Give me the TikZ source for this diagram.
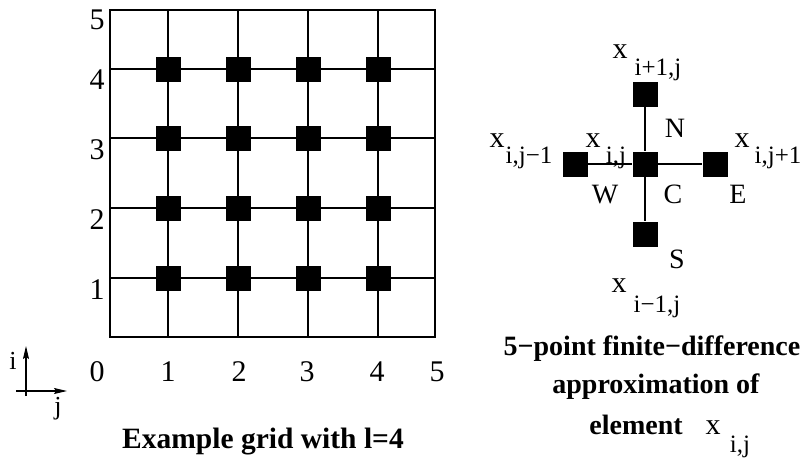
\documentclass[tikz,border=0pt]{standalone}
\usepackage{fontspec}
\setmainfont{Liberation Serif}
\usetikzlibrary{arrows.meta}

\begin{document}
\begin{tikzpicture}[x=1pt, y=-1pt,
    cell/.style={fill=black, inner sep=0pt, minimum size=25pt},
    gridline/.style={line width=1.6pt},
    stemline/.style={line width=1.3pt},
    numlbl/.style={font=\fontsize{30}{36}\selectfont},
    dirlbl/.style={anchor=base, font=\fontsize{28}{33}\selectfont},
    xlbl/.style={anchor=base, inner sep=0pt, font=\fontsize{30}{36}\selectfont},
    sublbl/.style={anchor=base, inner sep=0pt, font=\fontsize{25}{30}\selectfont},
    caption/.style={anchor=base, inner sep=0pt, font=\fontsize{28}{34}\selectfont\bfseries}]
  \useasboundingbox (0,0) rectangle (801,458);
  % Grid frame and lines
  \draw[gridline] (110,10) rectangle (435,337);
  \foreach \yy in {69,138,208,278}
    \draw[gridline] (110,\yy) -- (435,\yy);
  \foreach \xx in {168,238,308,378}
    \draw[gridline] (\xx,10) -- (\xx,337);
  % Grid points
  \foreach \xx [count=\c] in {168,238,308,378}{
    \foreach \yy [count=\r] in {278,208,138,69}{
      \node[cell] (g-\r-\c) at (\xx,\yy) {};
    }
  }
  % Row and column numbers
  \foreach \n/\yy in {1/290, 2/220, 3/150, 4/80, 5/20}
    \node[numlbl] (row-\n) at (97,\yy) {\n};
  \foreach \n/\xx in {0/97, 1/168, 2/239, 3/307, 4/377, 5/437}
    \node[numlbl] (col-\n) at (\xx,372) {\n};
  % i/j direction indicator
  \coordinate (ij-b) at (26,396);
  \coordinate (ij-i) at (26,346);
  \coordinate (ij-l) at (16,391);
  \coordinate (ij-j) at (67,391);
  \draw[line width=1.2pt,-{Stealth[length=13pt,width=6pt,inset=2pt]}] (ij-b) -- (ij-i);
  \draw[line width=1.2pt,-{Stealth[length=13pt,width=6pt,inset=2pt]}] (ij-l) -- (ij-j);
  \node[xlbl, font=\fontsize{26}{31}\selectfont] (lbl-i) at (13,369) {i};
  \node[xlbl, font=\fontsize{26}{31}\selectfont] (lbl-j) at (58,414) {j};
  \node[caption, font=\fontsize{29.5}{35}\selectfont\bfseries] (cap-grid) at (263,448) {Example grid with l=4};
  % 5-point stencil
  \node[cell] (st-c) at (645,164) {};
  \node[cell] (st-n) at (645,94) {};
  \node[cell] (st-s) at (645,234) {};
  \node[cell] (st-w) at (575,164) {};
  \node[cell] (st-e) at (715,164) {};
  \draw[stemline] (st-n) -- (st-c);
  \draw[stemline] (st-c) -- (st-s);
  \draw[stemline] (st-w) -- (st-c);
  \draw[stemline] (st-c) -- (st-e);
  \node[dirlbl] (lbl-n) at (675,137) {N};
  \node[dirlbl] (lbl-w) at (605,203) {W};
  \node[dirlbl] (lbl-c) at (673,203) {C};
  \node[dirlbl] (lbl-e) at (738,203) {E};
  \node[dirlbl] (lbl-s) at (677,268) {S};
  % Element names
  \node[xlbl] (x-n) at (620,58) {x};
  \node[sublbl] (x-n-sub) at (658,75) {i+1,j};
  \node[xlbl] (x-w) at (497,147) {x};
  \node[sublbl] (x-w-sub) at (529,163) {i,j−1};
  \node[xlbl] (x-c) at (593,147) {x};
  \node[sublbl] (x-c-sub) at (616,163) {i,j};
  \node[xlbl] (x-e) at (742,147) {x};
  \node[sublbl] (x-e-sub) at (778,163) {i,j+1};
  \node[xlbl] (x-s) at (619,292) {x};
  \node[sublbl] (x-s-sub) at (657,312) {i−1,j};
  % Caption
  \node[caption] (cap-fd) at (652,355) {5−point finite−difference};
  \node[caption] (cap-ap) at (656,393) {approximation of};
  \node[caption] (cap-el) at (636,434) {element};
  \node[xlbl] (x-el) at (713,434) {x};
  \node[sublbl] (x-el-sub) at (740,452) {i,j};
\end{tikzpicture}
\end{document}
